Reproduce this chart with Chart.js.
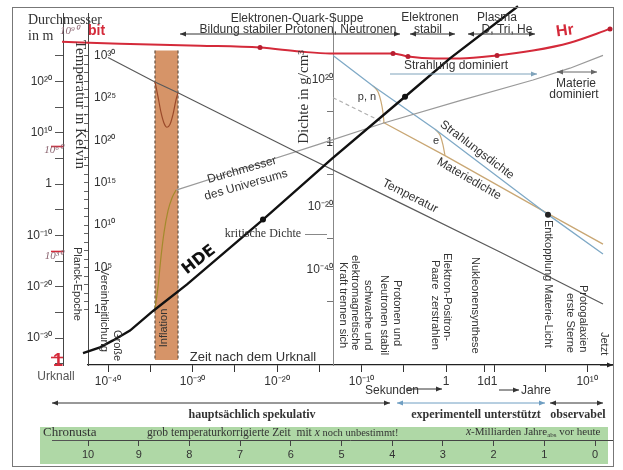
<!DOCTYPE html>
<html><head><meta charset="utf-8">
<script src="https://cdn.jsdelivr.net/npm/chart.js@4.4.1/dist/chart.umd.min.js"></script>
<style>html,body{margin:0;padding:0;background:#fff;}#wrap{width:623px;height:470px;}</style>
</head><body><div id="wrap"><canvas id="c" width="623" height="470"></canvas></div>
<script>
// ---------- DATA (x = position on time axis in decades, log10 seconds; y = log10 of the quantity) ----------
const xTickPos    = [-40,-35,-30,-25,-20,-15,-10,-5,0,4.5,5.68,11.83,16.7];
const xTickLabels = ['10⁻⁴⁰','','10⁻³⁰','','10⁻²⁰','','10⁻¹⁰','','1','1d','1','','10¹⁰'];
const chronTicks  = [10,9,8,7,6,5,4,3,2,1,0];
const diamTicks   = [-35,-30,-25,-20,-15,-10,-5,0,5,10,15,20,25];
const tempTicks   = [0,1,2,3,4,5,6,7,8,9,10,11,12,13,14,15,16,17,18,19,20,21,22,23,24,25,26,27,28,29,30];
const rhoTicks    = [-50,-40,-30,-20,-10,0,10,20];
const bitTicks    = [0,30,60];

// Durchmesser des Universums (m)
const diamX = [-31.95,-23.20,-15.27,-7.46,1.66,10.30,14.67,18.58];
const diamY = [-1.15,3.45,7.66,11.88,16.28,20.31,22.61,25.10];
const inflDiamX = [-34.44,-34.08,-33.73,-33.37,-32.90,-32.43,-31.95];
const inflDiamY = [-24.33,-19.92,-14.18,-9.39,-5.17,-2.68,-1.15];
// Temperatur (K)
const tempX = [-40.0,-34.44,-31.72,-17.28,-5.44,6.39,18.58];
const tempY = [29.78,26.88,25.61,18.42,12.63,6.84,0.70];
const inflTempX = [-34.44,-34.08,-33.73,-33.37,-33.02,-32.66,-32.31,-31.95,-31.72];
const inflTempY = [26.88,25.14,23.29,22.02,21.55,21.90,23.06,24.80,25.61];
// Strahlungsdichte (g/cm3)
const radX = [-13.37,-8.64,-1.30,12.07,18.58];
const radY = [27.55,17.96,4.33,-22.60,-34.98];
// Materiedichte (g/cm3)
const matDashX = [-13.37,-7.46];
const matDashY = [14.24,6.50];
const matX = [-7.46,-0.12,12.07,18.58];
const matY = [6.50,-4.02,-22.29,-31.89];
const pnX = [-8.64,-8.05,-7.69,-7.46,-7.34];
const pnY = [17.96,16.10,13.00,9.60,6.50];
const eX = [-1.30,-0.71,-0.36,-0.12];
const eY = [4.33,2.48,-0.62,-4.02];
const entkX = [12.07];
const entkY = [-22.60];
// HDE (black line)
const hdeX = [-44.14,-42.96,-40.95,-39.41,-37.40,-34.67,-30.65,-21.66,-13.49,-4.85,0.47,8.52];
const hdeY = [-33.72,-32.95,-31.80,-30.46,-28.54,-24.71,-19.54,-6.90,4.98,17.05,24.52,34.67];
const hdeDotX = [-44.14,-42.96,-21.66,-4.85];
const hdeDotY = [-33.72,-32.95,-6.90,17.05];
// Hr (red line, bit)
const hrX = [-45.44,-38.58,-29.11,-22.01,-17.28,-13.73,-6.27,-4.50,-1.30,1.66,6.04,10.30,14.67,19.41];
const hrY = [89.66,89.11,88.55,87.99,86.87,86.31,86.31,85.47,84.92,84.92,85.75,87.15,89.39,93.30];
const hrDotX = [-22.01,-6.27,-4.50,6.04,19.41];
const hrDotY = [87.99,86.31,85.47,85.75,93.30];
// Inflation epoch (x range) and its extent on the temperature axis
const inflationX = [-34.44,-31.72];
const inflationT = [30.59,-5.91];

// ---------- helpers ----------
const SANS = '"Liberation Sans", Arial, sans-serif';
const SERIF = '"Liberation Serif", "Times New Roman", serif';
const SUP = {'0':'⁰','1':'¹','2':'²','3':'³','4':'⁴','5':'⁵','6':'⁶','7':'⁷','8':'⁸','9':'⁹','-':'⁻'};
const pow = n => n === 0 ? '1' : '10' + String(n).split('').map(ch => SUP[ch]).join('');
const P = (xs, ys) => xs.map((x, i) => ({x, y: ys[i]}));
const setTicks = arr => s => { s.ticks = arr.map(v => ({value: v})); };
const isZeroTick = ctx => !!(ctx && ctx.tick && ctx.tick.value === 0);

function txt(c, s, x, y, font, color, align, rot, base) {
  c.save(); c.translate(x, y); if (rot) c.rotate(rot * Math.PI / 180);
  c.font = font; c.fillStyle = color; c.textAlign = align || 'center'; c.textBaseline = base || 'middle';
  c.fillText(s, 0, 0); c.restore();
}
function runs(c, x, y, parts) {
  let cx = x;
  for (const [t, f, col, dy] of parts) {
    c.font = f; c.fillStyle = col; c.textAlign = 'left'; c.textBaseline = 'middle';
    c.fillText(t, cx, y + (dy || 0)); cx += c.measureText(t).width;
  }
}
function arrow(c, x1, x2, y, color, heads, lw) {
  c.save(); c.strokeStyle = color; c.fillStyle = color; c.lineWidth = lw || 1;
  c.beginPath(); c.moveTo(x1, y); c.lineTo(x2, y); c.stroke();
  const h = (x, d) => { c.beginPath(); c.moveTo(x, y); c.lineTo(x - d * 6, y - 2.5); c.lineTo(x - d * 6, y + 2.5); c.closePath(); c.fill(); };
  if (heads.includes('l')) h(x1, -1);
  if (heads.includes('r')) h(x2, 1);
  c.restore();
}

const TXT = '#333';
const vLabels = [
  ['Planck-Epoche', 77, 247], ['Große', 117, 330], ['Vereinheitlichung', 104, 268],
  ['schwache und', 368, 280], ['elektromagnetische', 355, 255], ['Kraft trennen sich', 343, 262],
  ['Protonen und', 397, 280], ['Neutronen stabil', 384, 275],
  ['Elektron-Positron-', 447, 253], ['Paare  zerstrahlen', 435, 260],
  ['Nukleonensynthese', 475, 257], ['Entkopplung Materie-Licht', 548, 220],
  ['Protogalaxien', 583, 285], ['erste Sterne', 570, 293], ['Jetzt', 604, 332]
];

const deco = {
  id: 'deco',
  beforeDraw(chart) {
    const c = chart.ctx;
    c.save();
    c.fillStyle = '#afd8a6';
    c.fillRect(40, 427, 568, 37);
    c.restore();
  },
  afterDraw(chart) {
    const c = chart.ctx;
    c.save();
    c.strokeStyle = '#777'; c.lineWidth = 1;
    c.strokeRect(12.5, 7.5, 601, 459);
    arrow(c, 600, 613, 365, '#222', 'r', 1.2);
    c.strokeStyle = '#555'; c.beginPath(); c.moveTo(52, 440.5); c.lineTo(88, 440.5); c.stroke();
    c.strokeStyle = '#888'; c.beginPath(); c.moveTo(305, 234.5); c.lineTo(327, 234.5); c.stroke();
    arrow(c, 180, 400, 34, '#333', 'lr');
    arrow(c, 410, 455, 34, '#333', 'lr');
    arrow(c, 468, 535, 34, '#333', 'lr');
    arrow(c, 390, 537, 74, '#7fa3bb', 'r');
    arrow(c, 557, 597, 72, '#666', 'lr');
    arrow(c, 52, 390, 403, '#333', 'lr');
    arrow(c, 397, 545, 403, '#6f9ec2', 'lr');
    arrow(c, 550, 603, 403, '#333', 'lr');
    arrow(c, 406, 442, 389, '#333', 'r');
    arrow(c, 499, 519, 390, '#333', 'r');

    txt(c, 'Durchmesser', 28, 20, '14px ' + SERIF, TXT, 'left');
    txt(c, 'in m', 28, 36, '14px ' + SERIF, TXT, 'left');
    txt(c, '10⁹⁰', 60, 31, 'italic 11px ' + SERIF, '#8a6470', 'left');
    txt(c, 'bit', 88, 31, 'bold 14px ' + SANS, '#d42a3a', 'left');
    txt(c, 'Temperatur in Kelvin', 80, 40, '15px ' + SERIF, TXT, 'left', 90);
    txt(c, 'Dichte in g/cm³', 304, 97, '15px ' + SERIF, TXT, 'center', -90);
    txt(c, 'Elektronen-Quark-Suppe', 297, 19, '12px ' + SANS, TXT);
    txt(c, 'Bildung stabiler Protonen, Neutronen', 298, 30, '12px ' + SANS, TXT);
    txt(c, 'Elektronen', 430, 18, '12px ' + SANS, TXT);
    txt(c, 'stabil', 428, 30, '12px ' + SANS, TXT);
    txt(c, 'Plasma', 497, 18, '12px ' + SANS, TXT);
    txt(c, 'D, Tri, He', 507, 30, '12px ' + SANS, TXT);
    txt(c, 'Hr', 565, 31, 'bold 16px ' + SANS, '#d42a3a', 'center', -8);
    txt(c, 'Strahlung dominiert', 456, 66, '12px ' + SANS, TXT);
    txt(c, 'Materie', 576, 84, '12px ' + SANS, TXT);
    txt(c, 'dominiert', 574, 95, '12px ' + SANS, TXT);
    txt(c, 'p, n', 367, 97, '11px ' + SANS, TXT);
    txt(c, 'e', 436, 141, '11px ' + SANS, TXT);
    txt(c, 'Strahlungsdichte', 477, 150, '12px ' + SANS, TXT, 'center', 37);
    txt(c, 'Materiedichte', 469, 179, '12px ' + SANS, TXT, 'center', 30);
    txt(c, 'Temperatur', 410, 196, '12px ' + SANS, TXT, 'center', 27);
    txt(c, 'Durchmesser', 242, 170, '12px ' + SANS, TXT, 'center', -16);
    txt(c, 'des Universums', 246, 185, '12px ' + SANS, TXT, 'center', -16);
    txt(c, 'kritische Dichte', 263, 234, '12px ' + SERIF, TXT);
    txt(c, 'HDE', 199, 260, 'bold 16px "DejaVu Sans", sans-serif', '#111', 'center', -38);
    txt(c, 'Inflation', 164, 328, '11px ' + SANS, TXT, 'center', -90);
    for (const [s, x, y] of vLabels) txt(c, s, x, y, '11px ' + SANS, TXT, 'left', 90);
    txt(c, 'Zeit nach dem Urknall', 253, 357, '13px ' + SANS, TXT);
    txt(c, 'Urknall', 56, 377, '12px ' + SANS, '#555');
    txt(c, 'Sekunden', 365, 391, '12px ' + SANS, TXT, 'left');
    txt(c, 'Jahre', 521, 391, '12px ' + SANS, TXT, 'left');
    txt(c, 'hauptsächlich spekulativ', 252, 415, 'bold 12px ' + SERIF, TXT);
    txt(c, 'experimentell unterstützt', 476, 415, 'bold 12px ' + SERIF, TXT);
    txt(c, 'observabel', 578, 415, 'bold 12px ' + SERIF, TXT);
    txt(c, 'Chronusta', 43, 433, '13px ' + SERIF, TXT, 'left');
    runs(c, 147, 433, [['grob temperaturkorrigierte Zeit  ', '11.5px ' + SERIF, TXT], ['mit ', '11.5px ' + SERIF, TXT], ['x', 'italic 11.5px ' + SERIF, TXT], [' noch unbestimmt!', '10.5px ' + SERIF, TXT]]);
    runs(c, 466, 432, [['x', 'italic 11.5px ' + SERIF, TXT], ['-Milliarden Jahre', '11px ' + SERIF, TXT], ['abs', '7px ' + SERIF, TXT, 3], [' vor heute', '11px ' + SERIF, TXT]]);
    c.restore();
  }
};

const X_MIN = -42.37, X_MAX = 19.645;
const tickFont = {family: SANS, size: 12};
const line = (label, xs, ys, axis, color, extra) => Object.assign({label, data: P(xs, ys), yAxisID: axis, borderColor: color, borderWidth: 1.2, pointRadius: 0, fill: false}, extra || {});
const dots = (label, xs, ys, axis, color, r) => ({label, data: P(xs, ys), yAxisID: axis, showLine: false, pointRadius: r, pointBackgroundColor: color, pointBorderWidth: 0, clip: false, order: 0});

new Chart(document.getElementById('c'), {
  type: 'line',
  data: {
    datasets: [
      dots('HDE Punkte', hdeDotX, hdeDotY, 'yD', '#111', 3),
      dots('Hr Punkte', hrDotX, hrDotY, 'yR', '#b81e30', 2.5),
      dots('Entkopplung', entkX, entkY, 'yRho', '#222', 3),
      line('HDE', hdeX, hdeY, 'yD', '#111', {borderWidth: 2.4, clip: false, order: 1}),
      line('Hr', hrX, hrY, 'yR', '#d42a3a', {borderWidth: 2, clip: false, cubicInterpolationMode: 'monotone', order: 2}),
      line('Temperatur', tempX, tempY, 'yT', '#5a5a5a', {order: 5}),
      line('Temperatur Inflation', inflTempX, inflTempY, 'yT', '#9b4a2a', {cubicInterpolationMode: 'monotone', order: 4}),
      line('Durchmesser', diamX, diamY, 'yD', '#9a9a9a', {order: 5}),
      line('Durchmesser Inflation', inflDiamX, inflDiamY, 'yD', '#a38a2c', {cubicInterpolationMode: 'monotone', order: 4}),
      line('Strahlungsdichte', radX, radY, 'yRho', '#7fa9c6', {borderWidth: 1.3, order: 5}),
      line('Materiedichte', matX, matY, 'yRho', '#c9a774', {borderWidth: 1.3, order: 5}),
      line('Materiedichte früh', matDashX, matDashY, 'yRho', '#b0b0b0', {borderDash: [4, 3], order: 5}),
      line('p, n', pnX, pnY, 'yRho', '#c9a774', {cubicInterpolationMode: 'monotone', order: 5}),
      line('e', eX, eY, 'yRho', '#c9a774', {cubicInterpolationMode: 'monotone', order: 5}),
      line('Inflation', inflationX, [inflationT[0], inflationT[0]], 'yT', 'rgba(0,0,0,0)', {fill: {value: inflationT[1]}, backgroundColor: '#d69468', borderWidth: 0, order: 50}),
      line('Inflation Beginn', [inflationX[0], inflationX[0]], inflationT, 'yT', '#6d5848', {borderDash: [3, 2], borderWidth: 1.3, order: 49}),
      line('Inflation Ende', [inflationX[1], inflationX[1]], inflationT, 'yT', '#6d5848', {borderDash: [3, 2], borderWidth: 1.3, order: 49})
    ]
  },
  options: {
    responsive: false, devicePixelRatio: 1, animation: false,
    layout: {padding: {left: 13, right: 11, top: 7, bottom: 0}},
    plugins: {legend: {display: false}, tooltip: {enabled: false}},
    elements: {point: {radius: 0}, line: {tension: 0}},
    scales: {
      x: {
        type: 'linear', position: 'bottom', min: X_MIN, max: X_MAX, weight: 0,
        afterBuildTicks: setTicks(xTickPos), afterFit: s => { s.height = 75; },
        ticks: {callback: (v, i) => xTickLabels[i], autoSkip: false, maxRotation: 0, minRotation: 0, font: tickFont, color: TXT, padding: 2},
        grid: {drawOnChartArea: false, tickLength: 7, tickColor: '#333'},
        border: {color: '#222', width: 1.2}
      },
      xc: {
        type: 'linear', position: 'bottom', reverse: true, min: -0.335, max: 10, weight: 1,
        afterBuildTicks: setTicks(chronTicks), afterFit: s => { s.height = 30; },
        ticks: {callback: v => String(v), autoSkip: false, maxRotation: 0, font: {family: SANS, size: 11}, color: TXT, padding: 2},
        grid: {drawOnChartArea: false, tickLength: 6, tickColor: '#444'},
        border: {color: '#444', width: 1}
      },
      yD: {
        type: 'linear', position: 'left', weight: 10, min: -35.25, max: 33.33,
        afterBuildTicks: setTicks(diamTicks), afterFit: s => { s.width = 50; },
        ticks: {callback: v => (v % 10 === 0 ? pow(v) : ''), autoSkip: false, font: tickFont, color: TXT, padding: 3},
        grid: {drawOnChartArea: false, tickLength: 8, tickColor: '#555'},
        border: {color: '#444', width: 1}
      },
      yT: {
        type: 'linear', position: 'left', weight: 1, min: -6.49, max: 35.0,
        afterBuildTicks: setTicks(tempTicks), afterFit: s => { s.width = 25; },
        ticks: {callback: v => (v % 5 === 0 ? pow(v) : ''), autoSkip: false, mirror: true, font: tickFont, color: TXT, padding: 6},
        grid: {drawOnChartArea: false, tickLength: 4, tickColor: '#666'},
        border: {color: '#444', width: 1}
      },
      yR: {
        type: 'linear', position: {x: -45.33}, min: -2.23, max: 97.77,
        afterBuildTicks: setTicks(bitTicks),
        ticks: {
          callback: v => pow(v), autoSkip: false, padding: 3, labelOffset: 4,
          color: ctx => (isZeroTick(ctx) ? '#d42a3a' : '#8a6470'),
          font: ctx => (isZeroTick(ctx) ? {family: SANS, size: 18, weight: 'bold'} : {family: SERIF, size: 11, style: 'italic'})
        },
        grid: {drawOnChartArea: false, tickLength: 12, tickColor: '#d42a3a', tickWidth: 1.6},
        border: {display: false}
      },
      yRho: {
        type: 'linear', position: {x: -13.373}, min: -69.97, max: 40.87,
        afterBuildTicks: setTicks(rhoTicks),
        ticks: {callback: v => (v % 20 === 0 ? pow(v) : ''), autoSkip: false, font: tickFont, color: TXT, padding: 3},
        grid: {drawOnChartArea: false, tickLength: 6, tickColor: '#777'},
        border: {color: '#888', width: 1}
      }
    }
  },
  plugins: [deco]
});
</script>
</body></html>
